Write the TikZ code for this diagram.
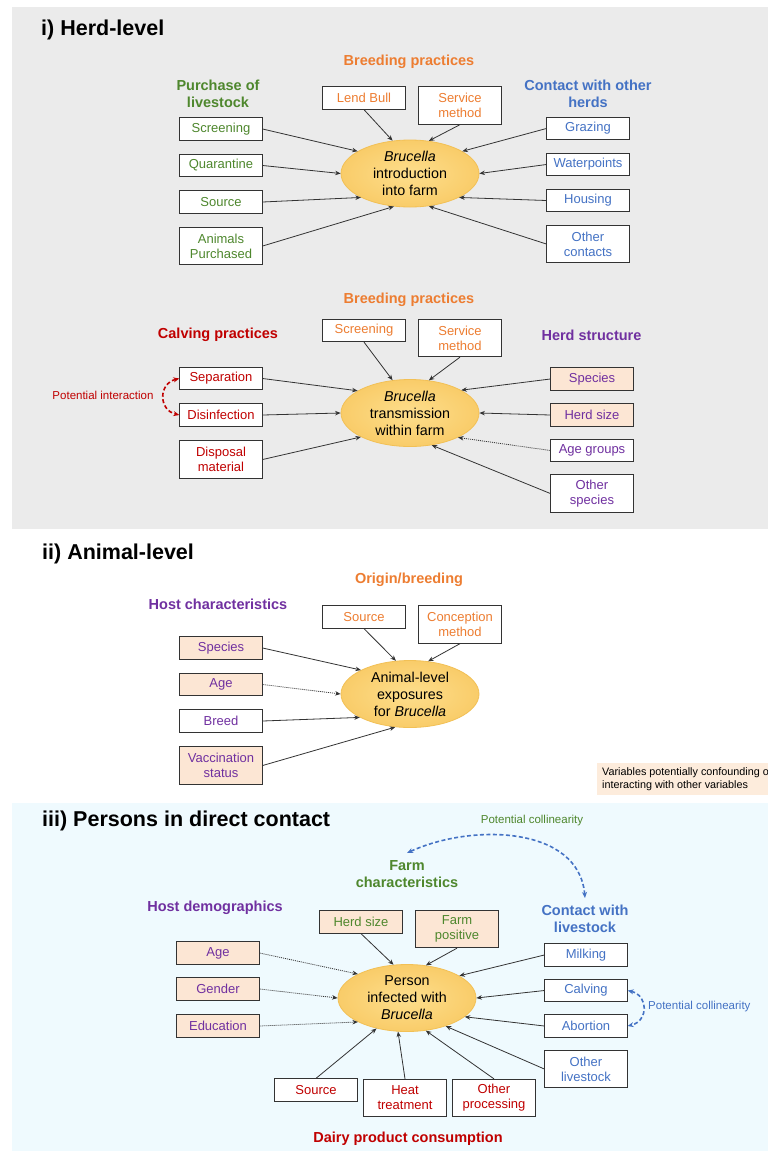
\documentclass[tikz,border=0pt]{standalone}
\usepackage{fontspec}
\setmainfont{Liberation Sans}
\usetikzlibrary{arrows.meta,shapes.geometric}
\definecolor{cgreen}{RGB}{78,135,45}
\definecolor{corange}{RGB}{237,125,49}
\definecolor{cblue}{RGB}{68,114,196}
\definecolor{cred}{RGB}{192,0,0}
\definecolor{cpurple}{RGB}{112,48,160}
\definecolor{peach}{RGB}{252,230,212}
\definecolor{legpeach}{RGB}{253,236,220}
\definecolor{graybg}{RGB}{235,235,235}
\definecolor{cyanbg}{RGB}{239,250,254}
\definecolor{ellin}{RGB}{253,222,140}
\definecolor{ellout}{RGB}{249,204,105}
\definecolor{elldraw}{RGB}{242,192,85}
\tikzset{
  box/.style={draw=black!80, line width=0.8pt, fill=white, minimum width=82.5pt,
    minimum height=22.5pt, inner sep=1pt, align=center, font=\fontsize{13}{15}\selectfont},
  box2/.style={box, minimum height=37.5pt},
  pbox/.style={box, fill=peach},
  pbox2/.style={box2, fill=peach},
  ell/.style={ellipse, draw=elldraw, line width=0.8pt, inner color=ellin, outer color=ellout,
    minimum width=138pt, minimum height=67pt, inner sep=0pt, align=center,
    font=\fontsize{14.3}{17}\selectfont},
  head/.style={align=center, inner sep=0pt, font=\bfseries\fontsize{14.5}{17}\selectfont},
  title/.style={anchor=west, inner sep=0pt, font=\bfseries\fontsize{21.5}{25}\selectfont},
  small/.style={inner sep=0pt, font=\fontsize{11.5}{14}\selectfont},
  arr/.style={draw=black!80, line width=0.8pt, -{Stealth[length=5.5pt,width=4.5pt]}},
  darr/.style={arr, dash pattern=on 1pt off 1pt},
  curv/.style={line width=1.6pt, dash pattern=on 4pt off 2.5pt,
    {Stealth[length=6pt,width=5pt]}-{Stealth[length=6pt,width=5pt]}},
}
\begin{document}
\begin{tikzpicture}[x=1pt,y=-1pt]
\useasboundingbox (0,0) rectangle (768,1152);
\fill[white] (0,0) rectangle (768,1152);
\fill[graybg] (12,7) rectangle (768,529);
\fill[cyanbg] (12,803) rectangle (768,1151);

% ---------------- i) Herd-level
\node[title] (t1) at (41,30) {i) Herd-level};
\node[head, text=corange] (bp1) at (409,62) {Breeding practices};
\node[head, text=cgreen] (pl1) at (218,93.5) {Purchase of\\livestock};
\node[head, text=cblue] (co1) at (588,93.5) {Contact with other\\herds};
\node[box, text=cgreen] (scr1) at (221,129) {Screening};
\node[box, text=cgreen] (qua1) at (221,165.5) {Quarantine};
\node[box, text=cgreen] (src1) at (221,202) {Source};
\node[box2, text=cgreen] (ani1) at (221,246) {Animals\\Purchased};
\node[box, text=corange] (lb1) at (364,98) {Lend Bull};
\node[box2, text=corange] (sm1) at (460,105.5) {Service\\method};
\node[box, text=cblue] (gr1) at (588,128.5) {Grazing};
\node[box, text=cblue] (wp1) at (588,164.5) {Waterpoints};
\node[box, text=cblue] (ho1) at (588,200.5) {Housing};
\node[box2, text=cblue] (oc1) at (588,244) {Other\\contacts};
\node[ell] (e1) at (410,173.5) {\textit{Brucella}\\introduction\\into farm};
\draw[arr] (scr1.east) -- (e1.157);
\draw[arr] (qua1.east) -- (e1.180);
\draw[arr] (src1.east) -- (e1.206);
\draw[arr] (ani1.east) -- (e1.244);
\draw[arr] (lb1.south) -- (e1.118);
\draw[arr] (sm1.south) -- (e1.60);
\draw[arr] (gr1.west) -- (e1.23);
\draw[arr] (wp1.west) -- (e1.0);
\draw[arr] (ho1.west) -- (e1.334);
\draw[arr] (oc1.west) -- (e1.300);

% ---------------- herd transmission
\node[head, text=corange] (bp2) at (409,300) {Breeding practices};
\node[head, text=cred] (cp2) at (218,335) {Calving practices};
\node[head, text=cpurple] (hs2) at (591.5,335) {Herd structure};
\node[box, text=corange] (scr2) at (364,330.5) {Screening};
\node[box2, text=corange] (sm2) at (460,338) {Service\\method};
\node[box, text=cred] (sep2) at (221,378.5) {Separation};
\node[box, text=cred] (dis2) at (221,415) {Disinfection};
\node[box2, text=cred] (dsp2) at (221,459.5) {Disposal\\material};
\node[pbox, text=cpurple] (spe2) at (592,379) {Species};
\node[pbox, text=cpurple] (hsz2) at (592,415) {Herd size};
\node[box, text=cpurple] (age2) at (592,450.5) {Age groups};
\node[box2, text=cpurple] (osp2) at (592,493.5) {Other\\species};
\node[ell] (e2) at (410,413) {\textit{Brucella}\\transmission\\within farm};
\node[small, text=cred] (pi2) at (103,395) {Potential interaction};
\draw[arr] (sep2.east) -- (e2.157);
\draw[arr] (dis2.east) -- (e2.180);
\draw[arr] (dsp2.east) -- (e2.206);
\draw[arr] (scr2.south) -- (e2.118);
\draw[arr] (sm2.south) -- (e2.60);
\draw[arr] (spe2.west) -- (e2.24);
\draw[arr] (hsz2.west) -- (e2.0);
\draw[darr] (age2.west) -- (e2.333);
\draw[arr] (osp2.west) -- (e2.304);
\draw[curv, draw=cred, color=cred] (sep2.west) .. controls +(-21,5) and +(-21,-5) .. (dis2.west);

% ---------------- ii) Animal-level
\node[title] (t2) at (42,554) {ii) Animal-level};
\node[head, text=corange] (ob3) at (409,580) {Origin/breeding};
\node[head, text=cpurple] (hc3) at (218,604) {Host characteristics};
\node[box, text=corange] (src3) at (364,617) {Source};
\node[box2, text=corange] (cm3) at (460,624.5) {Conception\\method};
\node[pbox, text=cpurple] (spe3) at (221,648) {Species};
\node[pbox, text=cpurple] (age3) at (221,684.5) {Age};
\node[box, text=cpurple] (bre3) at (221,721) {Breed};
\node[pbox2, text=cpurple] (vac3) at (221,765.5) {Vaccination\\status};
\node[ell] (e3) at (410,694) {Animal-level\\exposures\\for \textit{Brucella}};
\draw[arr] (spe3.east) -- (e3.154);
\draw[darr] (age3.east) -- (e3.180);
\draw[arr] (bre3.east) -- (e3.205);
\draw[arr] (vac3.east) -- (e3.246);
\draw[arr] (src3.south) -- (e3.113);
\draw[arr] (cm3.south) -- (e3.61);

% legend
\begin{scope}
\clip (597,763) rectangle (768,795);
\fill[legpeach] (597,763) rectangle (768,795);
\node[anchor=west, inner sep=0pt, align=left, font=\fontsize{10.8}{13.5}\selectfont] (leg) at (602,779)
  {Variables potentially confounding or\\interacting with other variables};
\end{scope}

% ---------------- iii) Persons
\node[title] (t3) at (42,821) {iii) Persons in direct contact};
\node[small, text=cgreen] (pc1) at (532,821) {Potential collinearity};
\node[head, text=cgreen] (fc4) at (407,874) {Farm\\characteristics};
\node[head, text=cpurple] (hd4) at (215,908) {Host demographics};
\node[head, text=cblue] (cl4) at (585,919) {Contact with\\livestock};
\node[pbox, text=cgreen] (hsz4) at (361,922) {Herd size};
\node[pbox2, text=cgreen] (fp4) at (457,929) {Farm\\positive};
\node[pbox, text=cpurple] (age4) at (218,953) {Age};
\node[pbox, text=cpurple] (gen4) at (218,989) {Gender};
\node[pbox, text=cpurple] (edu4) at (218,1026) {Education};
\node[box, text=cblue] (mil4) at (586,955) {Milking};
\node[box, text=cblue] (cal4) at (586,990.5) {Calving};
\node[box, text=cblue] (abo4) at (586,1026) {Abortion};
\node[box2, text=cblue] (ol4) at (586,1069) {Other\\livestock};
\node[box, text=cred] (src4) at (316,1090) {Source};
\node[box2, text=cred] (ht4) at (405,1098) {Heat\\treatment};
\node[box2, text=cred] (op4) at (494,1098) {Other\\processing};
\node[head, text=cred] (dpc4) at (408,1139) {Dairy product consumption};
\node[ell] (e4) at (407,998) {Person\\infected with\\\textit{Brucella}};
\node[small, text=cblue, anchor=west] (pc2) at (648,1007) {Potential collinearity};
\draw[darr] (age4.east) -- (e4.154);
\draw[darr] (gen4.east) -- (e4.180);
\draw[darr] (edu4.east) -- (e4.206);
\draw[arr] (hsz4.south) -- (e4.112);
\draw[arr] (fp4.south) -- (e4.60);
\draw[arr] (mil4.west) -- (e4.23);
\draw[arr] (cal4.west) -- (e4.0);
\draw[arr] (abo4.west) -- (e4.342);
\draw[arr] (ol4.west) -- (e4.324);
\draw[arr] (src4.north) -- (e4.225);
\draw[arr] (ht4.north) -- (e4.255);
\draw[arr] (op4.north) -- (e4.300);
\coordinate (cla) at (585,898);
\coordinate (clb) at (407,853);
\draw[curv, draw=cblue, color=cblue] (cla) .. controls (579,826) and (472,823) .. (clb);
\draw[curv, draw=cblue, color=cblue] (cal4.east) .. controls +(21,5) and +(21,-5) .. (abo4.east);
\end{tikzpicture}
\end{document}
